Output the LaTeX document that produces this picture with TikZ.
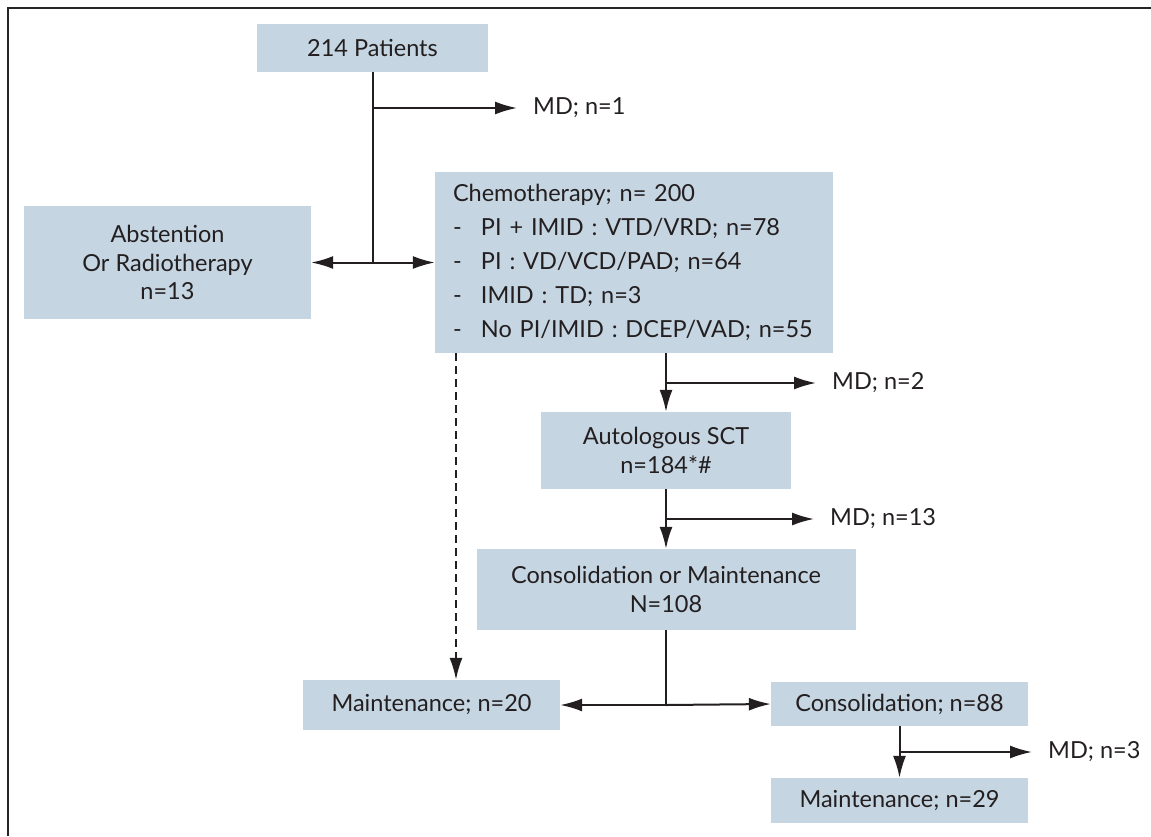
\documentclass[tikz,border=0pt]{standalone}
\usepackage{fontspec}
\setmainfont{Lato}
\usetikzlibrary{arrows.meta,positioning}
\definecolor{boxblue}{RGB}{197,213,226}
\definecolor{inkgray}{RGB}{35,31,32}
\newcommand{\itemdash}{\makebox[28pt][l]{-}}
\tikzset{
        flowbox/.style={align=center,inner sep=0pt,fill=boxblue,text=inkgray,font=\fontsize{23.5}{28.5}\selectfont},
        % Boxes of one line
        box_single/.style={flowbox, minimum height=46pt},
        % Boxes of several lines
        box_multi/.style={flowbox},
        % List box
        box_list/.style={flowbox, align=left, font=\fontsize{23.5}{34}\selectfont},
        % Missing data labels
        label_md/.style={inner sep=0pt, anchor=west, text=inkgray, font=\fontsize{23.5}{28.5}\selectfont},
        % Connectors
        line_main/.style={line width=2pt, draw=inkgray},
        arrow_main/.style={line_main, -{Latex[length=22pt,width=13pt]}},
        arrow_dashed/.style={arrow_main, dash pattern=on 8pt off 5pt}
}
\begin{document}
\begin{tikzpicture}[x=1pt, y=-1pt]
    \useasboundingbox (0,0) rectangle (1151,836);
    % frame
    \draw[line width=2.6pt, draw=black!85] (8,836) -- (8,8) -- (1151,8);

    \node[box_single, minimum width=231pt, minimum height=48pt] (patients) at (372.5,48) {214 Patients};
    \node[box_multi, minimum width=287pt, minimum height=113pt] (abstention) at (167.5,262.5) {Abstention\\Or Radiotherapy\\n=13};
    \node[box_list, minimum width=398pt, minimum height=181pt, text width=362pt] (chemo) at (634,262.5)
        {Chemotherapy; n= 200\\
         \itemdash PI + IMID : VTD/VRD; n=78\\
         \itemdash PI : VD/VCD/PAD; n=64\\
         \itemdash IMID : TD; n=3\\
         \itemdash No PI/IMID : DCEP/VAD; n=55};
    \node[box_multi, minimum width=250pt, minimum height=77pt] (asct) at (666,450.5) {Autologous SCT\\n=184*\#};
    \node[box_multi, minimum width=379pt, minimum height=81pt] (consmaint) at (666,589.5) {Consolidation or Maintenance\\N=108};
    \node[box_single, minimum width=257pt, minimum height=50pt] (maint_a) at (431.5,705) {Maintenance; n=20};
    \node[box_single, minimum width=257pt, minimum height=44pt] (consol) at (899.5,704) {Consolidation; n=88};
    \node[box_single, minimum width=257pt, minimum height=45pt] (maint_b) at (899.5,800.5) {Maintenance; n=29};

    \node[label_md] (md_a) at (533,108) {MD; n=1};
    \node[label_md] (md_b) at (832,383) {MD; n=2};
    \node[label_md] (md_c) at (830,519) {MD; n=13};
    \node[label_md] (md_d) at (1048,752) {MD; n=3};

    % first split
    \coordinate (split_a) at (patients.south |- chemo.west);
    \draw[line_main] (patients.south) -- (split_a);
    \draw[arrow_main] (split_a) -- (chemo.west);
    \draw[arrow_main] (split_a) -- (abstention.east);
    \draw[arrow_main] (patients.south |- md_a.west) -- ([xshift=-16pt]md_a.west);

    % main line
    \draw[arrow_main] (asct.north |- chemo.south) -- (asct.north);
    \draw[arrow_main] (asct.north |- md_b.west) -- ([xshift=-16pt]md_b.west);
    \draw[arrow_main] (asct.south) -- (consmaint.north);
    \draw[arrow_main] (asct.south |- md_c.west) -- ([xshift=-16pt]md_c.west);

    % second split
    \coordinate (split_b) at (consmaint.south |- maint_a.east);
    \draw[line_main] (consmaint.south) -- (split_b);
    \draw[arrow_main] (split_b) -- (maint_a.east);
    \draw[arrow_main] (split_b) -- (consol.west);
    \draw[arrow_main] (consol.south) -- (maint_b.north);
    \draw[arrow_main] (consol.south |- md_d.west) -- ([xshift=-16pt]md_d.west);

    % dashed path
    \path (maint_a.north) ++(24.5,0) coordinate (dash_end);
    \draw[arrow_dashed] (dash_end |- chemo.south) -- (dash_end);
\end{tikzpicture}
\end{document}
